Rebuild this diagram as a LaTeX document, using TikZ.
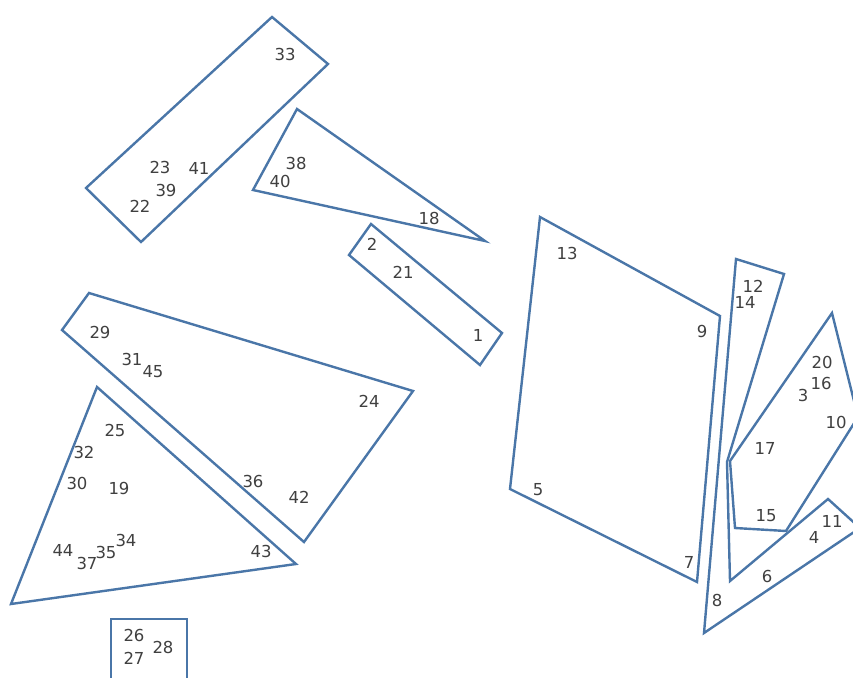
\documentclass[tikz,border=0pt]{standalone}
\usepackage{fontspec}
\setmainfont{DejaVu Sans}
\definecolor{edgeblue}{HTML}{4A76A8}
\definecolor{labelgray}{HTML}{404040}
\begin{document}
\begin{tikzpicture}[x=1pt,y=-1pt,
  piece/.style={draw=edgeblue,line width=2.4pt,line join=miter},
  num/.style={text=labelgray,font=\fontsize{16.5}{17}\selectfont,inner sep=0pt}]
\useasboundingbox (0,0) rectangle (853,677);
\clip (0,0) rectangle (853,677);
% pieces
\draw[piece] (272,17) -- (328,64) -- (141,242) -- (86,188) -- cycle;
\draw[piece] (297,109) -- (485,241) -- (253,190) -- cycle;
\draw[piece] (371,224) -- (502,333) -- (480,365) -- (349,255) -- cycle;
\draw[piece] (89,293) -- (413,391) -- (304,542) -- (62,330) -- cycle;
\draw[piece] (97,387) -- (296,564) -- (11,604) -- cycle;
\draw[piece] (111,690) -- (111,619) -- (187,619) -- (187,690);
\draw[piece] (540,217) -- (720,316) -- (697,582) -- (510,489) -- cycle;
\draw[piece] (736,259) -- (784,274) -- (727,462) -- (730,581) -- (828,499) -- (860,528) -- (704,633) -- cycle;
\draw[piece] (832,313) -- (858,417) -- (786,531) -- (735,528) -- (730,461) -- cycle;
% labels
\node[num] (n33) at (285,54) {33};
\node[num] (n23) at (160,167) {23};
\node[num] (n41) at (199,168) {41};
\node[num] (n39) at (166,190) {39};
\node[num] (n22) at (140,206) {22};
\node[num] (n38) at (296,163) {38};
\node[num] (n40) at (280,181) {40};
\node[num] (n18) at (429,218) {18};
\node[num] (n2) at (372,244) {2};
\node[num] (n21) at (403,272) {21};
\node[num] (n1) at (478,335) {1};
\node[num] (n29) at (100,332) {29};
\node[num] (n31) at (132,359) {31};
\node[num] (n45) at (153,372) {45};
\node[num] (n24) at (369,401) {24};
\node[num] (n25) at (115,430) {25};
\node[num] (n32) at (84,452) {32};
\node[num] (n30) at (77,483) {30};
\node[num] (n19) at (119,488) {19};
\node[num] (n36) at (253,481) {36};
\node[num] (n42) at (299,497) {42};
\node[num] (n44) at (63,550) {44};
\node[num] (n37) at (87,563) {37};
\node[num] (n35) at (106,552) {35};
\node[num] (n34) at (126,540) {34};
\node[num] (n43) at (261,551) {43};
\node[num] (n26) at (134,635) {26};
\node[num] (n27) at (134,658) {27};
\node[num] (n28) at (163,647) {28};
\node[num] (n13) at (567,253) {13};
\node[num] (n9) at (702,331) {9};
\node[num] (n5) at (538,490) {5};
\node[num] (n7) at (689,562) {7};
\node[num] (n12) at (753,286) {12};
\node[num] (n14) at (745,302) {14};
\node[num] (n20) at (822,362) {20};
\node[num] (n16) at (821,383) {16};
\node[num] (n3) at (803,395) {3};
\node[num] (n10) at (836,422) {10};
\node[num] (n17) at (765,448) {17};
\node[num] (n15) at (766,516) {15};
\node[num] (n4) at (814,537) {4};
\node[num] (n11) at (832,521) {11};
\node[num] (n6) at (767,576) {6};
\node[num] (n8) at (717,600) {8};
\end{tikzpicture}
\end{document}
